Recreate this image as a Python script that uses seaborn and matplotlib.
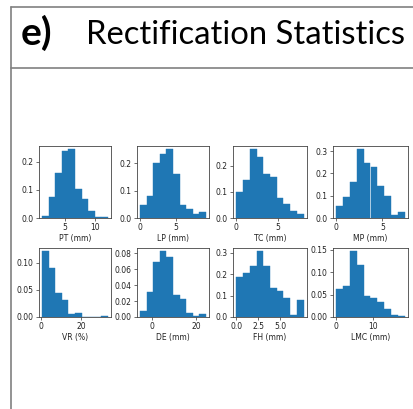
import numpy as np
import pandas as pd
import matplotlib
matplotlib.use("Agg")
import matplotlib.pyplot as plt
import seaborn as sns

# ---- data (density per bin, 10 bins) ----
labels = ["PT (mm)", "LP (mm)", "TC (mm)", "MP (mm)",
          "VR (%)", "DE (mm)", "FH (mm)", "LMC (mm)"]

pt_range = (1.2, 12.05)
pt_density = [0.006, 0.074, 0.159, 0.240, 0.244, 0.103, 0.068, 0.025, 0.004, 0.004]

lp_range = (0.0, 9.1)
lp_density = [0.048, 0.079, 0.199, 0.232, 0.250, 0.160, 0.048, 0.034, 0.016, 0.021]

tc_range = (0.05, 8.1)
tc_density = [0.100, 0.145, 0.263, 0.233, 0.169, 0.158, 0.077, 0.054, 0.028, 0.017]

mp_range = (0.0, 7.4)
mp_density = [0.053, 0.093, 0.161, 0.308, 0.245, 0.230, 0.143, 0.101, 0.015, 0.026]

vr_range = (0.6, 33.2)
vr_density = [0.121, 0.090, 0.045, 0.032, 0.005, 0.007, 0.0, 0.0, 0.0, 0.0025]

de_range = (-5.4, 24.4)
de_density = [0.0078, 0.032, 0.069, 0.0825, 0.0747, 0.028, 0.0224, 0.0053, 0.0016, 0.0037]

fh_range = (0.0, 7.7)
fh_density = [0.185, 0.207, 0.236, 0.306, 0.236, 0.137, 0.119, 0.090, 0.009, 0.080]

lmc_range = (0.0, 18.4)
lmc_density = [0.063, 0.070, 0.147, 0.117, 0.047, 0.043, 0.033, 0.017, 0.005, 0.002]

x_ticks = [[5, 10], [0, 5], [0, 5], [0, 5], [0, 20], [0, 20], [0.0, 2.5, 5.0], [0, 10]]
y_ticks = [[0.0, 0.1, 0.2], [0.0, 0.1, 0.2], [0.0, 0.1, 0.2], [0.0, 0.1, 0.2, 0.3],
           [0.00, 0.05, 0.10], [0.00, 0.02, 0.04, 0.06, 0.08], [0.0, 0.1, 0.2, 0.3],
           [0.00, 0.05, 0.10, 0.15]]

ranges = [pt_range, lp_range, tc_range, mp_range, vr_range, de_range, fh_range, lmc_range]
densities = [pt_density, lp_density, tc_density, mp_density,
             vr_density, de_density, fh_density, lmc_density]

# ---- figure ----
sns.set_style("white")
plt.rcParams["font.family"] = ["DejaVu Sans"]
W, H = 414, 409
fig = plt.figure(figsize=(W / 100, H / 100), dpi=100)

# frame lines of the panel
frame_col = "#808080"
fig.add_artist(plt.Line2D([11 / W, 11 / W], [0, 1 - 7 / H], color=frame_col, lw=1.2))
fig.add_artist(plt.Line2D([11 / W, 1], [1 - 7 / H, 1 - 7 / H], color=frame_col, lw=1.2))
fig.add_artist(plt.Line2D([11 / W, 1], [1 - 68 / H, 1 - 68 / H], color=frame_col, lw=1.2))

fig.text(21 / W, 1 - 45 / H, "e)", fontsize=28, fontweight="bold", family="Lato",
         va="baseline", ha="left", color="black")
fig.text(86 / W, 1 - 43.5 / H, "Rectification Statistics", fontsize=23.6, family="Lato",
         va="baseline", ha="left", color="black")

col_x = [(39, 111), (137, 209), (233, 307), (333, 408)]
row_y = [(146, 218), (248, 317)]

for i in range(8):
    r, c = divmod(i, 4)
    x0, x1 = col_x[c]
    y0, y1 = row_y[r]
    ax = fig.add_axes([x0 / W, 1 - y1 / H, (x1 - x0) / W, (y1 - y0) / H])
    lo, hi = ranges[i]
    nb = len(densities[i])
    step = (hi - lo) / nb
    centers = [lo + step * (k + 0.5) for k in range(nb)]
    df = pd.DataFrame({"x": centers, "w": densities[i]})
    sns.histplot(data=df, x="x", weights="w", bins=nb, binrange=(lo, hi), stat="count",
                 color="#1f77b4", alpha=1.0, edgecolor="#1f77b4", linewidth=0.3, ax=ax)
    span = hi - lo
    ax.set_xlim(lo - 0.05 * span, hi + 0.05 * span)
    ax.set_xticks(x_ticks[i])
    ax.set_yticks(y_ticks[i])
    if i == 6:
        ax.set_xticklabels(["0.0", "2.5", "5.0"])
    ax.set_ylabel("")
    ax.set_xlabel(labels[i], fontsize=5.5, labelpad=1.5, color="#222222")
    ax.tick_params(axis="both", labelsize=5.5, length=2.2, width=0.5, pad=1.5,
                   colors="#333333", labelcolor="#222222", direction="out",
                   bottom=True, left=True)
    for s in ax.spines.values():
        s.set_linewidth(0.6)
        s.set_color("#444444")

fig.savefig("out.png", dpi=100, facecolor="white")
